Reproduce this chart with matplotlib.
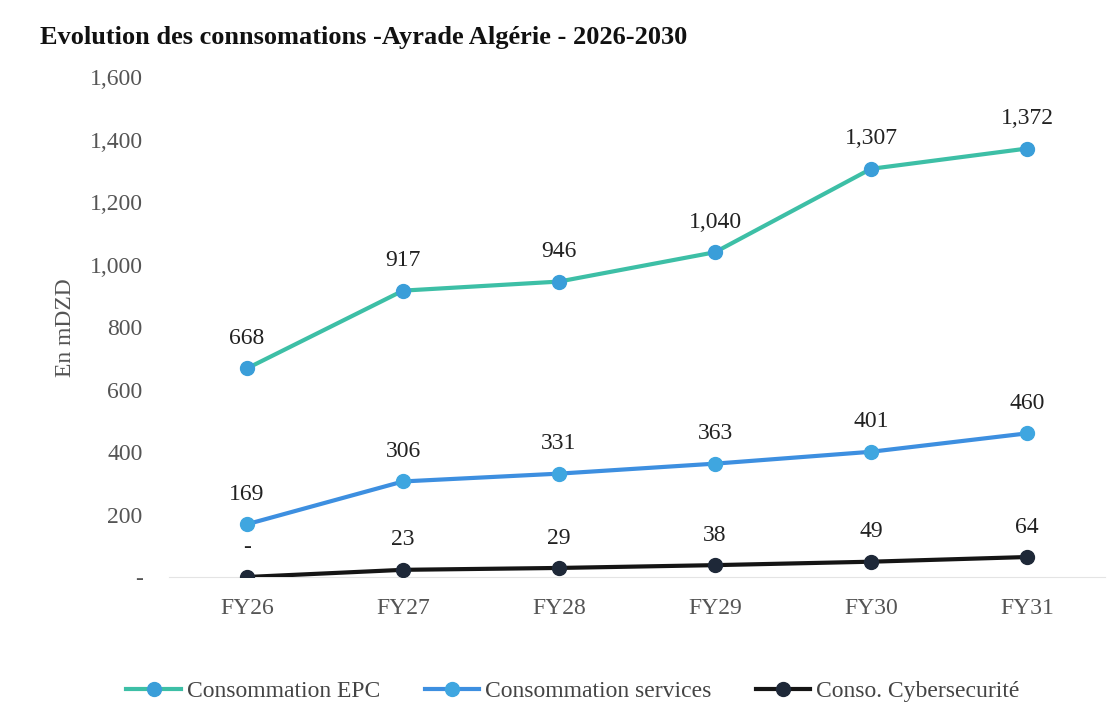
import matplotlib.pyplot as plt
from matplotlib.ticker import FuncFormatter

years = ["FY26", "FY27", "FY28", "FY29", "FY30", "FY31"]
epc = [668, 917, 946, 1040, 1307, 1372]
services = [169, 306, 331, 363, 401, 460]
cyber = [0, 23, 29, 38, 49, 64]

plt.rcParams['font.family'] = ['Liberation Serif', 'DejaVu Serif']

fig = plt.figure(figsize=(11.17, 7.2), dpi=100)
ax = fig.add_axes([0.1513, 0.1986, 0.838, 0.694])

x = list(range(len(years)))
series = [
    ("Consommation EPC", epc, "#3dbfa6", "#3a9ed9"),
    ("Consommation services", services, "#3d8fe0", "#3fa6e0"),
    ("Conso. Cybersecurité", cyber, "#151515", "#1e2838"),
]
for name, vals, lc, mc in series:
    ax.plot(x, vals, color=lc, lw=3, marker="o", ms=10, mfc=mc, mec=mc, label=name, zorder=3)
    for xi, v in zip(x, vals):
        txt = "-" if v == 0 else f"{v:,}"
        ax.annotate(txt, (xi, v), xytext=(0, 14), textcoords="offset points",
                    ha="center", va="bottom", fontsize=17, color="#222222")

ax.set_xlim(-0.5, 5.5)
ax.set_ylim(0, 1600)
ax.set_yticks(range(0, 1601, 200))
ax.yaxis.set_major_formatter(FuncFormatter(lambda v, p: "-" if v == 0 else f"{int(v):,}"))
ax.set_xticks(x)
ax.set_xticklabels(years)
ax.tick_params(axis="both", length=0, labelsize=17, labelcolor="#555555")
ax.tick_params(axis="y", pad=19)
ax.tick_params(axis="x", pad=15)
for s in ["top", "right", "left"]:
    ax.spines[s].set_visible(False)
ax.spines["bottom"].set_color("#e4e4e4")
ax.set_ylabel("En mDZD", fontsize=17, color="#555555", labelpad=10)

fig.text(0.036, 0.948, "Evolution des connsomations -Ayrade Algérie - 2026-2030",
         fontsize=19, fontweight="bold", ha="left", va="center", color="#111111")

fig.legend(loc="center", bbox_to_anchor=(0.513, 0.04), ncol=3, frameon=False,
           fontsize=17, handlelength=2.3, handletextpad=0.25, columnspacing=1.9,
           labelcolor="#444444")

fig.savefig("out.png", dpi=100)
